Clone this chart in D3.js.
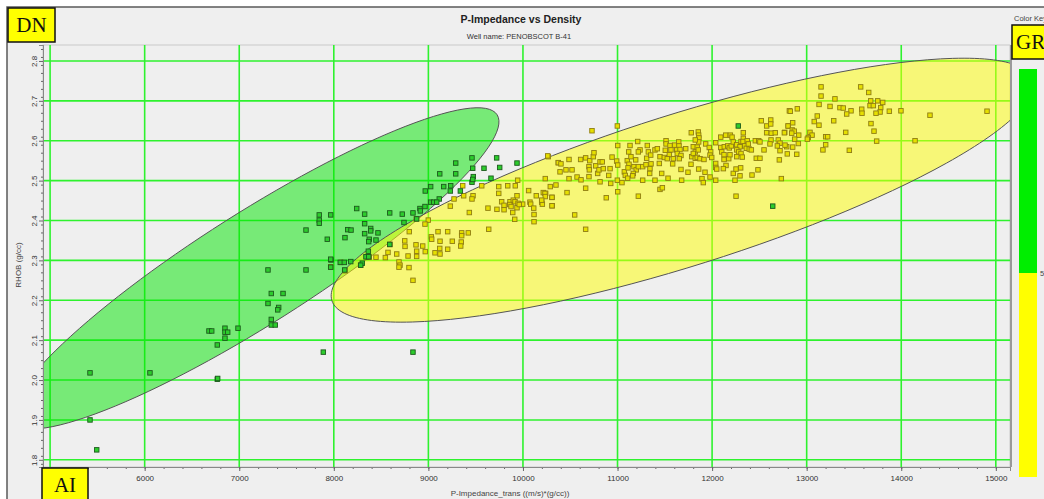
<!DOCTYPE html>
<html>
<head>
<meta charset="utf-8">
<script src="https://cdnjs.cloudflare.com/ajax/libs/d3/7.8.5/d3.min.js"></script>
<style>
  html, body { margin: 0; padding: 0; background: #fff; overflow: hidden; }
  svg { display: block; font-family: "Liberation Sans", Arial, sans-serif; }
</style>
</head>
<body>
<div id="chart"></div>
<script>
const width = 1044;
const height = 499;
const plot = { left: 43, right: 1010, top: 45, bottom: 467 };

// axis ticks
const xTicks = [6000, 7000, 8000, 9000, 10000, 11000, 12000, 13000, 14000, 15000];
const xGrid = [5000, 6000, 7000, 8000, 9000, 10000, 11000, 12000, 13000, 14000, 15000];
const yTicks = [1.8, 1.9, 2.0, 2.1, 2.2, 2.3, 2.4, 2.5, 2.6, 2.7, 2.8];

// cluster ellipses in data units: centre, major and minor half-axis vectors
const greenEllipse = { center: [7167, 2.280], major: [2560, 0.385], minor: [316, -0.118] };
const yellowEllipse = { center: [11687, 2.476], major: [3707, 0.277], minor: [241, -0.181] };

// color key
const keyColors = ["#00ee00", "#ffff00"];
const keyLabel = "50";

// samples [P-Impedance, RHOB]
const greenPoints = [
  [5422,2.018],[6056,2.018],[5422,1.900],[5493,1.825],[6768,2.002],[6772,2.004],[6768,2.088],
  [6680,2.123],[6709,2.123],[6849,2.130],[6849,2.120],[6878,2.120],[6849,2.105],[6987,2.130],
  [7304,2.276],[7339,2.217],[7463,2.217],[7304,2.192],[7417,2.182],[7407,2.176],[7339,2.152],
  [7339,2.138],[7381,2.138],[7706,2.376],[7706,2.276],[7846,2.414],[7846,2.401],[7846,2.393],
  [7967,2.414],[7931,2.353],[7889,2.070],[7970,2.301],[7967,2.283],[9461,2.557],[9722,2.557],
  [9937,2.544],[9289,2.544],[9469,2.531],[9588,2.531],[9754,2.533],[9120,2.517],[9289,2.517],
  [9475,2.510],[9461,2.496],[9469,2.503],[9662,2.506],[9024,2.485],[9162,2.485],[9236,2.487],
  [8967,2.474],[9232,2.474],[9338,2.474],[9115,2.454],[9024,2.446],[9056,2.446],[9088,2.446],
  [8964,2.435],[8242,2.430],[8591,2.419],[8326,2.416],[8724,2.416],[8837,2.419],[8911,2.430],
  [8915,2.424],[8326,2.392],[8147,2.377],[8182,2.376],[8390,2.380],[8390,2.374],[8326,2.367],
  [8467,2.369],[8118,2.357],[8375,2.353],[8369,2.347],[8446,2.351],[8365,2.323],[8742,2.395],
  [8876,2.404],[8837,2.070],[7967,2.303],[8068,2.295],[8111,2.295],[8301,2.293],[8340,2.309],
  [8369,2.309],[8179,2.297],[8115,2.276],[8284,2.288],[8591,2.340],[12641,2.436],[12277,2.637]
];

const yellowPoints = [
  [9363,2.487],[9564,2.487],[9744,2.485],[9839,2.487],[9919,2.487],[9944,2.501],[10236,2.505],
  [10268,2.560],[10374,2.545],[9744,2.468],[9937,2.462],[10060,2.475],[10141,2.462],[10215,2.470],
  [10240,2.468],[10307,2.458],[9373,2.462],[9472,2.462],[9461,2.454],[9271,2.454],[9775,2.447],
  [9863,2.447],[9898,2.451],[9916,2.447],[9800,2.438],[9860,2.440],[9948,2.443],[9997,2.441],
  [10074,2.446],[10082,2.441],[10198,2.446],[10205,2.441],[10310,2.437],[9874,2.435],[9937,2.432],
  [9961,2.440],[10114,2.431],[9630,2.431],[9725,2.428],[9800,2.427],[9232,2.436],[9433,2.420],
  [9892,2.420],[10117,2.415],[9913,2.403],[10117,2.397],[8872,2.404],[8999,2.401],[8964,2.391],
  [8798,2.372],[9102,2.372],[9204,2.372],[9352,2.369],[9352,2.362],[9422,2.369],[9638,2.378],
  [9031,2.359],[9035,2.353],[8750,2.349],[8753,2.335],[9123,2.348],[9253,2.348],[9348,2.346],
  [9342,2.336],[8594,2.340],[8869,2.339],[8876,2.323],[8940,2.336],[9120,2.330],[9123,2.316],
  [9204,2.328],[9070,2.319],[8967,2.322],[8665,2.316],[8785,2.311],[8876,2.310],[8545,2.307],
  [8573,2.320],[8446,2.308],[8689,2.296],[8700,2.288],[8689,2.283],[8795,2.282],[8837,2.250],
  [8354,2.308],[8375,2.308],[8284,2.288],[8118,2.274],[8079,2.295],[7967,2.284],
  [10262,2.562],[10487,2.553],[10374,2.545],[10402,2.542],[10455,2.527],[10572,2.509],[10614,2.502],
  [10487,2.505],[10610,2.553],[10663,2.557],[10706,2.550],[10744,2.560],[10751,2.570],[10698,2.535],
  [10702,2.527],[10698,2.510],[10769,2.537],[10815,2.547],[10839,2.547],[10790,2.518],[10804,2.527],
  [10850,2.530],[10921,2.530],[10907,2.513],[10928,2.493],[10289,2.485],[10233,2.468],[10236,2.460],
  [10198,2.451],[10307,2.458],[10307,2.437],[10466,2.470],[10663,2.481],[10547,2.414],[10663,2.378],
  [10881,2.457],[11002,2.588],[10998,2.637],[10730,2.625],[10991,2.549],[11002,2.539],[10998,2.501],
  [11002,2.472],[11047,2.495],[11072,2.522],[11082,2.513],[11107,2.506],[11103,2.550],[11121,2.541],
  [11111,2.532],[11132,2.588],[11118,2.572],[11142,2.560],[11192,2.552],[11174,2.535],[11198,2.527],
  [11220,2.535],[11167,2.518],[11160,2.512],[11213,2.598],[11266,2.535],[11266,2.501],[11220,2.461],
  [11238,2.577],[11220,2.572],[11315,2.588],[11326,2.572],[11308,2.556],[11351,2.564],[11301,2.540],
  [11354,2.542],[11343,2.530],[11340,2.518],[11396,2.577],[11421,2.580],[11449,2.560],[11442,2.543],
  [11467,2.518],[11449,2.478],[11474,2.482],[11513,2.600],[11513,2.592],[11505,2.576],[11555,2.588],
  [11565,2.577],[11548,2.565],[11495,2.558],[11526,2.555],[11583,2.542],[11604,2.589],[11647,2.597],
  [11650,2.587],[11626,2.577],[11661,2.578],[11632,2.568],[11721,2.580],[11671,2.563],[11590,2.555],
  [11653,2.555],[11671,2.528],[11780,2.620],[11854,2.622],[11858,2.614],[11861,2.607],[11858,2.597],
  [11822,2.602],[11801,2.585],[11843,2.584],[11822,2.572],[11854,2.577],[11784,2.560],[11801,2.568],
  [11822,2.556],[11843,2.558],[11872,2.555],[11914,2.553],[11777,2.541],[11858,2.529],[11893,2.505],
  [11907,2.495],[11932,2.592],[11970,2.583],[11985,2.572],[11978,2.564],[11996,2.558],[12038,2.595],
  [12091,2.609],[12144,2.614],[12038,2.543],[12038,2.533],[12049,2.529],[12038,2.501],[12091,2.583],
  [12102,2.572],[12126,2.565],[12129,2.585],[12165,2.587],[12182,2.582],[12203,2.587],[12126,2.553],
  [12176,2.555],[12189,2.565],[12147,2.538],[12119,2.530],[12193,2.614],[12211,2.609],[12224,2.597],
  [12260,2.590],[12295,2.585],[12306,2.598],[12260,2.577],[12281,2.572],[12306,2.568],[12260,2.560],
  [12319,2.559],[12224,2.518],[12253,2.529],[12302,2.532],[12242,2.501],[12295,2.512],[12330,2.620],
  [12330,2.606],[12327,2.598],[12345,2.587],[12362,2.581],[12372,2.600],[12383,2.592],[12393,2.579],
  [12415,2.577],[12457,2.600],[12493,2.600],[12467,2.556],[12506,2.556],[12506,2.597],[12520,2.650],
  [12577,2.637],[12620,2.652],[12620,2.642],[12577,2.620],[12626,2.619],[12668,2.620],[12623,2.602],
  [12612,2.592],[12700,2.602],[12718,2.594],[12690,2.587],[12789,2.585],[12711,2.552],[12732,2.505],
  [12768,2.621],[12806,2.637],[12817,2.675],[12253,2.461],[11678,2.501],[10392,2.522],[10519,2.527],
  [10349,2.489],[10815,2.497],[10942,2.559],[11396,2.501],[11534,2.506],[11745,2.521],[11925,2.521],
  [11978,2.509],[12485,2.527],[12422,2.514],[12549,2.577],
  [13152,2.735],[13571,2.735],[13656,2.721],[13152,2.712],[13299,2.705],[13131,2.691],[13247,2.686],
  [13352,2.683],[13387,2.682],[13469,2.675],[13423,2.667],[13582,2.679],[13585,2.669],[13677,2.700],
  [13670,2.688],[13705,2.688],[13751,2.700],[13804,2.696],[13783,2.683],[13776,2.672],[13733,2.669],
  [13874,2.674],[13997,2.675],[14304,2.664],[14907,2.674],[12827,2.674],[12901,2.680],[13112,2.662],
  [13080,2.648],[13130,2.639],[12852,2.645],[13286,2.650],[12803,2.637],[12848,2.627],[12869,2.624],
  [12842,2.619],[12764,2.620],[12916,2.614],[13035,2.621],[13057,2.614],[13017,2.608],[13007,2.604],
  [13201,2.610],[13222,2.610],[12873,2.604],[12912,2.593],[12771,2.589],[12852,2.584],[12718,2.575],
  [13201,2.590],[13172,2.577],[12795,2.567],[12895,2.566],[13413,2.621],[13680,2.643],[13712,2.624],
  [13740,2.599],[13451,2.576],[14146,2.600]
];

let svg = d3.select("#chart")
            .append("svg")
            .attr("width", width)
            .attr("height", height);

let xScale, yScale;

function drawCanvas() {
  svg.append("rect").attr("width", width).attr("height", height).attr("fill", "#fff");
  svg.append("rect")
     .attr("x", 7).attr("y", 7)
     .attr("width", width + 20).attr("height", height + 20)
     .attr("fill", "#efefef")
     .attr("stroke", "#5a5a5a")
     .attr("stroke-width", 1.5);

  svg.append("clipPath").attr("id", "plot-clip")
     .append("rect")
     .attr("x", plot.left).attr("y", plot.top)
     .attr("width", plot.right - plot.left).attr("height", plot.bottom - plot.top);

  svg.append("rect")
     .attr("x", plot.left).attr("y", plot.top)
     .attr("width", plot.right - plot.left).attr("height", plot.bottom - plot.top)
     .attr("fill", "#efefef")
     .attr("stroke", "#c9c9c9");
  svg.append("line")
     .attr("x1", plot.right + 1).attr("x2", plot.right + 1)
     .attr("y1", plot.top).attr("y2", plot.bottom)
     .attr("stroke", "#9a9a9a").attr("stroke-width", 2);
}

function generateTitle() {
  svg.append("text")
     .attr("x", 521).attr("y", 23)
     .attr("text-anchor", "middle")
     .style("font-size", "10.5px").style("font-weight", "bold").attr("fill", "#222")
     .text("P-Impedance vs Density");
  svg.append("text")
     .attr("x", 519).attr("y", 39)
     .attr("text-anchor", "middle")
     .style("font-size", "7.5px").attr("fill", "#333")
     .text("Well name: PENOBSCOT B-41");
}

function generateScales() {
  xScale = d3.scaleLinear().domain([4925, 15150]).range([plot.left, plot.right]);
  yScale = d3.scaleLinear().domain([1.782, 2.840]).range([plot.bottom, plot.top]);
}

function generateGrid() {
  const grid = svg.append("g").attr("clip-path", "url(#plot-clip)");
  grid.selectAll(".vgrid").data(xGrid).enter().append("line")
      .attr("class", "vgrid")
      .attr("x1", d => xScale(d)).attr("x2", d => xScale(d))
      .attr("y1", plot.top).attr("y2", plot.bottom)
      .attr("stroke", "#2ef22e").attr("stroke-width", 1.6);
  grid.selectAll(".hgrid").data(yTicks).enter().append("line")
      .attr("class", "hgrid")
      .attr("x1", plot.left).attr("x2", plot.right)
      .attr("y1", d => yScale(d)).attr("y2", d => yScale(d))
      .attr("stroke", "#2ef22e").attr("stroke-width", 1.6);
}

function ellipsePath(e) {
  const pts = d3.range(0, 360, 3).map(deg => {
    const t = deg * Math.PI / 180;
    return [e.center[0] + Math.cos(t) * e.major[0] + Math.sin(t) * e.minor[0],
            e.center[1] + Math.cos(t) * e.major[1] + Math.sin(t) * e.minor[1]];
  });
  return d3.line().x(d => xScale(d[0])).y(d => yScale(d[1])).curve(d3.curveCardinalClosed)(pts);
}

function generateEllipses() {
  const g = svg.append("g").attr("clip-path", "url(#plot-clip)");
  g.append("path").attr("d", ellipsePath(greenEllipse))
   .attr("fill", "#00e600").attr("fill-opacity", 0.5)
   .attr("stroke", "#555").attr("stroke-width", 1);
  g.append("path").attr("d", ellipsePath(yellowEllipse))
   .attr("fill", "#ffff00").attr("fill-opacity", 0.5)
   .attr("stroke", "#555").attr("stroke-width", 1);
}

function generatePoints() {
  const g = svg.append("g").attr("clip-path", "url(#plot-clip)");
  const s = 4.5;
  g.selectAll(".pt-yellow").data(yellowPoints).enter().append("rect")
   .attr("class", "pt-yellow")
   .attr("x", d => xScale(d[0]) - s / 2).attr("y", d => yScale(d[1]) - s / 2)
   .attr("width", s).attr("height", s)
   .attr("fill", "#e6df00").attr("stroke", "#8f7d12").attr("stroke-width", 0.9);
  g.selectAll(".pt-green").data(greenPoints).enter().append("rect")
   .attr("class", "pt-green")
   .attr("x", d => xScale(d[0]) - s / 2).attr("y", d => yScale(d[1]) - s / 2)
   .attr("width", s).attr("height", s)
   .attr("fill", "#2ccc2c").attr("stroke", "#1d5a1d").attr("stroke-width", 0.9);
}

function generateAxes() {
  const xAxis = d3.axisBottom(xScale).tickValues(xTicks).tickFormat(d3.format("d")).tickSize(4);
  const xMinor = d3.axisBottom(xScale).tickValues(d3.range(5000, 15001, 200)).tickFormat("").tickSize(2);
  const yAxis = d3.axisLeft(yScale).tickValues(yTicks).tickFormat(d3.format(".1f")).tickSize(4);
  const yMinor = d3.axisLeft(yScale).tickValues(d3.range(1.79, 2.84, 0.02)).tickFormat("").tickSize(2);

  [xMinor, xAxis].forEach(a => {
    svg.append("g")
       .attr("transform", `translate(0, ${plot.bottom})`)
       .call(a)
       .call(g => g.select(".domain").attr("stroke", "#888"))
       .call(g => g.selectAll("line").attr("stroke", "#666"))
       .call(g => g.selectAll("text").attr("fill", "#333").style("font-size", "8px").attr("y", 8));
  });
  [yMinor, yAxis].forEach(a => {
    svg.append("g")
       .attr("transform", `translate(${plot.left}, 0)`)
       .call(a)
       .call(g => g.select(".domain").attr("stroke", "#888"))
       .call(g => g.selectAll("line").attr("stroke", "#666"))
       .call(g => g.selectAll("text")
                   .attr("fill", "#333").style("font-size", "8px")
                   .attr("transform", "rotate(-90)")
                   .attr("x", 0).attr("y", -6).attr("dy", 0)
                   .style("text-anchor", "middle"));
  });

  svg.append("text")
     .attr("transform", "translate(21, 265) rotate(-90)")
     .attr("text-anchor", "middle")
     .style("font-size", "8px").attr("fill", "#444")
     .text("RHOB (g/cc)");
  svg.append("text")
     .attr("x", 510).attr("y", 496)
     .attr("text-anchor", "middle")
     .style("font-size", "8px").attr("fill", "#444")
     .text("P-Impedance_trans ((m/s)*(g/cc))");
}

function generateLegend() {
  const keyScale = d3.scaleBand().domain(keyColors).range([69, 477]);
  svg.append("text")
     .attr("x", 1014).attr("y", 21)
     .style("font-size", "7.5px").attr("fill", "#444")
     .text("Color Key");
  svg.selectAll(".key").data(keyColors).enter().append("rect")
     .attr("class", "key")
     .attr("x", 1019).attr("width", 18)
     .attr("y", d => keyScale(d)).attr("height", keyScale.bandwidth())
     .attr("fill", d => d);
  svg.append("text")
     .attr("x", 1040).attr("y", keyScale(keyColors[1]) + 3)
     .style("font-size", "7.5px").attr("fill", "#444")
     .text(keyLabel);
}

function generateTags() {
  const tags = [
    { text: "DN", x: 8, y: 8, w: 47, h: 34 },
    { text: "AI", x: 42, y: 468, w: 46, h: 36 },
    { text: "GR", x: 1012, y: 25, w: 40, h: 34 }
  ];
  const g = svg.selectAll(".tag").data(tags).enter().append("g").attr("class", "tag");
  g.append("rect")
   .attr("x", d => d.x).attr("y", d => d.y).attr("width", d => d.w).attr("height", d => d.h)
   .attr("fill", "#ffff00").attr("stroke", "#111").attr("stroke-width", 1.5);
  g.append("text")
   .attr("x", d => d.text === "GR" ? d.x + 4 : d.x + d.w / 2)
   .attr("y", d => d.y + 24)
   .attr("text-anchor", d => d.text === "GR" ? "start" : "middle")
   .style("font-family", "'Liberation Serif', 'DejaVu Serif', serif")
   .style("font-size", "21px").attr("fill", "#111")
   .text(d => d.text);
}

drawCanvas();
generateTitle();
generateScales();
generateGrid();
generateEllipses();
generatePoints();
generateAxes();
generateLegend();
generateTags();
</script>
</body>
</html>
